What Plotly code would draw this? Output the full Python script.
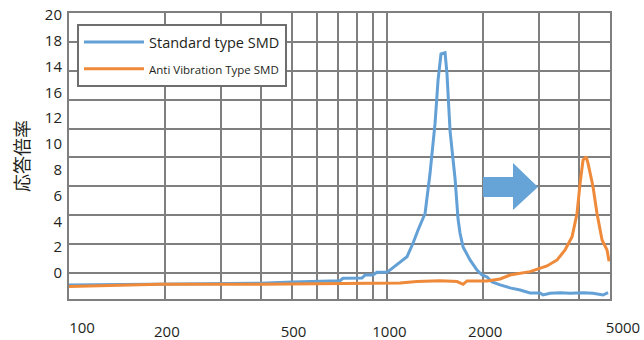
import plotly.graph_objects as go

# ---- data ----
std_freq = [100, 155, 193, 258, 398, 505, 614, 710, 725, 832,
            851, 901, 927, 997, 1152, 1203, 1248, 1313, 1361, 1411,
            1442, 1473, 1517, 1538, 1573, 1631, 1666, 1690, 1728, 1817,
            1911, 1982, 2055, 2131, 2258, 2427, 2610, 2805, 3015, 3082,
            3241, 3486, 3746, 4115, 4423, 4753, 4931]
std_resp = [-0.93, -0.88, -0.85, -0.85, -0.80, -0.70, -0.64, -0.60, -0.41, -0.39,
            -0.16, -0.16, 0.05, 0.05, 1.26, 2.30, 3.33, 4.63, 7.73, 11.60,
            14.96, 16.98, 17.08, 15.48, 11.0, 7.3, 4.2, 3.1, 2.02, 1.01,
            0.23, -0.16, -0.31, -0.70, -0.93, -1.16, -1.32, -1.55, -1.55, -1.71,
            -1.57, -1.53, -1.57, -1.53, -1.57, -1.71, -1.53]

avt_freq = [100, 193, 398, 710, 1095, 1239, 1463, 1654, 1728, 1778,
            2055, 2258, 2427, 2805, 3015, 3170, 3410, 3613, 3801, 3940,
            4027, 4115, 4207, 4266, 4423, 4550, 4721, 4894, 4966]
avt_resp = [-1.06, -0.88, -0.88, -0.85, -0.78, -0.67, -0.60, -0.67, -0.88, -0.62,
            -0.62, -0.47, -0.16, 0.10, 0.36, 0.54, 1.01, 1.78, 2.81, 4.63,
            6.95, 8.76, 9.01, 8.50, 6.69, 4.63, 2.56, 1.78, 0.90]

x_grid = [100, 200, 300, 400, 500, 600, 700, 800, 900, 1000, 2000, 3000, 4000, 5000]
x_grid_text = ["", "200", "", "", "500", "", "", "", "", "1000", "2000", "", "", ""]
x_end_vals = [100, 5000]
x_end_text = ["100", "5000"]
y_label_vals = [0, 2, 4, 6, 8, 10, 12, 14, 16, 18, 20]
y_label_text = ["0", "2", "4", "6", "8", "10", "12", "16", "14", "18", "20"]

name_std = "Standard type SMD"
name_avt = "Anti Vibration Type SMD"
y_title = "応答倍率"

# ---- styling ----
BLUE = "#62a0d6"
ORANGE = "#ee8a3a"
GRID = "#7f7f7f"
TEXT = "#231f20"
FONT = "Open Sans"

y_range = [-2.02, 20.16]
x_range = [2, 3.69897]

fig = go.Figure()
fig.add_trace(go.Scatter(x=std_freq, y=std_resp, mode="lines", name=name_std,
                         xaxis="x", yaxis="y",
                         line=dict(color=BLUE, width=3), legendgroup="a"))
fig.add_trace(go.Scatter(x=avt_freq, y=avt_resp, mode="lines",
                         name="<span style='font-size:11.5px'>" + name_avt + "</span>",
                         xaxis="x2", yaxis="y2",
                         line=dict(color=ORANGE, width=3), legendgroup="b"))

# blue block arrow (decoration, paper coords)
fig.add_shape(type="path", xref="paper", yref="paper",
              path="M0.7652,0.4266 L0.8207,0.4266 L0.8207,0.4755 L0.8669,0.3916 "
                   "L0.8207,0.3112 L0.8207,0.3566 L0.7652,0.3566 Z",
              fillcolor="#66a3d6", line=dict(width=0))

fig.update_layout(
    width=644, height=340,
    margin=dict(l=69, r=34, t=13, b=41, autoexpand=False),
    paper_bgcolor="white", plot_bgcolor="white",
    font=dict(family=FONT, size=15, color=TEXT),
    showlegend=True,
    legend=dict(x=0.0148, y=0.9615, xanchor="left", yanchor="top",
                bgcolor="white", bordercolor="#6e6e6e", borderwidth=2,
                font=dict(family=FONT, size=14.5, color=TEXT),
                tracegroupgap=5, itemwidth=60),
    xaxis=dict(type="log", range=x_range, tickvals=x_grid, ticktext=x_grid_text,
               showgrid=True, gridcolor=GRID, gridwidth=1.6, ticks="",
               showline=True, linecolor=GRID, linewidth=2, mirror=True,
               zeroline=False, ticklabelstandoff=18, ticklabelshift=2,
               automargin=False),
    xaxis2=dict(type="log", range=x_range, overlaying="x", anchor="y2", side="bottom",
                tickvals=x_end_vals, ticktext=x_end_text,
                showgrid=False, showline=False, zeroline=False, ticks="",
                ticklabelstandoff=18, ticklabelshift=13, ticklabeloverflow="allow",
                automargin=False),
    yaxis=dict(range=y_range, tick0=0, dtick=20.16 / 9, showticklabels=False,
               showgrid=True, gridcolor=GRID, gridwidth=1.6, ticks="",
               showline=True, linecolor=GRID, linewidth=2, mirror=True,
               zeroline=False, automargin=False),
    yaxis2=dict(range=y_range, overlaying="y", anchor="x2", side="left",
                tickvals=y_label_vals, ticktext=y_label_text,
                showgrid=False, showline=False, zeroline=False, ticks="",
                ticklabelstandoff=6, automargin=False,
                title=dict(text=y_title, standoff=10,
                           font=dict(family="Noto Sans CJK JP", size=18, color=TEXT))),
)

fig.write_html("out.html", config={"displayModeBar": False},
               post_script="document.body.style.margin='0px';")
